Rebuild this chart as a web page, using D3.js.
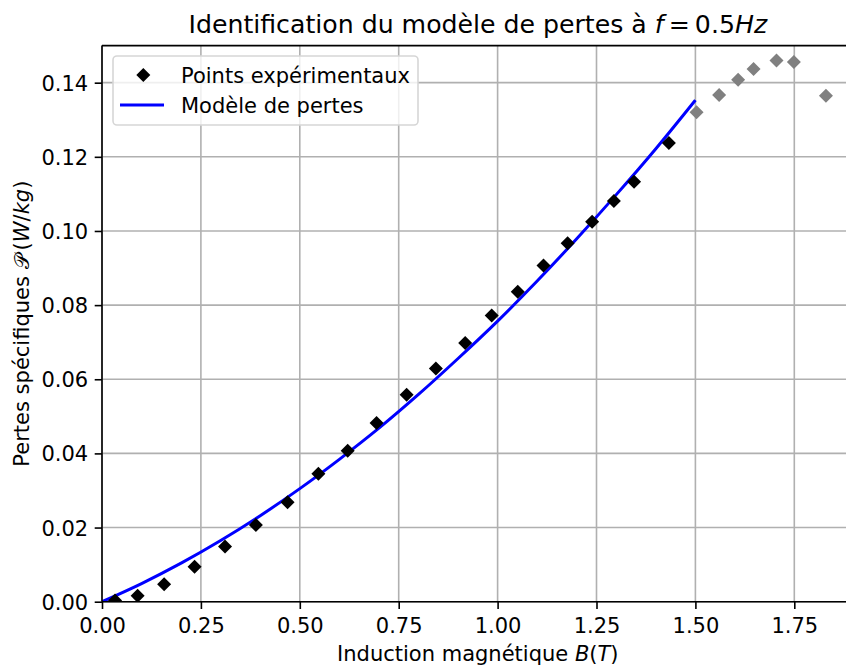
<!DOCTYPE html>
<html>
<head>
<meta charset="utf-8">
<script src="https://cdn.jsdelivr.net/npm/d3@7"></script>
<style>
  html, body { margin: 0; padding: 0; background: #fff; }
  svg { display: block; font-family: "DejaVu Sans", sans-serif; }
</style>
</head>
<body>
<svg id="chart" width="846" height="666"></svg>
<script>
// ---- data ----
const bExp = [0.033, 0.090, 0.157, 0.234, 0.311, 0.389, 0.469, 0.547, 0.621, 0.694, 0.770,
              0.844, 0.918, 0.985, 1.051, 1.116, 1.177, 1.239, 1.294, 1.345, 1.433];
const pExp = [0.0003, 0.0016, 0.0047, 0.0094, 0.0149, 0.0207, 0.0268, 0.0345, 0.0407, 0.0482, 0.0558,
              0.0629, 0.0698, 0.0772, 0.0836, 0.0907, 0.0967, 0.1025, 0.1081, 0.1133, 0.1237];
const bExcluded = [1.503, 1.560, 1.608, 1.647, 1.705, 1.749, 1.830];
const pExcluded = [0.1320, 0.1367, 0.1408, 0.1437, 0.1460, 0.1456, 0.1365];
const bModel = [0, 0.1, 0.2, 0.3, 0.4, 0.5, 0.6, 0.7, 0.8, 0.9, 1.0, 1.1, 1.2, 1.3, 1.4, 1.5];
const pModel = [0, 0.0049, 0.0104, 0.0165, 0.0232, 0.0305, 0.0384, 0.0468, 0.0559, 0.0656,
                0.0757, 0.0865, 0.0979, 0.1098, 0.1222, 0.1353];
const xTicks = [0, 0.25, 0.5, 0.75, 1.0, 1.25, 1.5, 1.75];
const yTicks = [0, 0.02, 0.04, 0.06, 0.08, 0.10, 0.12, 0.14];
const legendLabels = ["Points expérimentaux", "Modèle de pertes"];

// ---- layout ----
const svg = d3.select("#chart");
const pLeft = 102, pBottom = 601.7, pTop = 45.6;
const x = d3.scaleLinear().domain([0, 1.9]).range([pLeft, pLeft + 1.9 * 395.6]);
const y = d3.scaleLinear().domain([0, 0.15]).range([pBottom, pTop]);
const pRight = x(1.9);
const fs = 21;
const lw = 1.6;

svg.append("defs").append("clipPath").attr("id", "clip")
  .append("rect").attr("x", pLeft).attr("y", pTop).attr("width", pRight - pLeft).attr("height", pBottom - pTop);

// grid
const grid = svg.append("g");
grid.selectAll("line.gx").data(xTicks).join("line").attr("class", "gx")
  .attr("x1", d => x(d)).attr("x2", d => x(d)).attr("y1", pTop).attr("y2", pBottom)
  .attr("stroke", "#b0b0b0").attr("stroke-width", lw);
grid.selectAll("line.gy").data(yTicks).join("line").attr("class", "gy")
  .attr("y1", d => y(d)).attr("y2", d => y(d)).attr("x1", pLeft).attr("x2", pRight)
  .attr("stroke", "#b0b0b0").attr("stroke-width", lw);

// axes
const xAxis = d3.axisBottom(x).tickValues(xTicks).tickFormat(d3.format(".2f")).tickSizeInner(7.3).tickSizeOuter(0).tickPadding(7);
const yAxis = d3.axisLeft(y).tickValues(yTicks).tickFormat(d3.format(".2f")).tickSizeInner(7.3).tickSizeOuter(0).tickPadding(6.5);
const gx = svg.append("g").attr("transform", `translate(0,${pBottom})`).call(xAxis);
const gy = svg.append("g").attr("transform", `translate(${pLeft},0)`).call(yAxis);
[gx, gy].forEach(g => {
  g.select(".domain").remove();
  g.selectAll(".tick line").attr("stroke", "#000").attr("stroke-width", lw);
  g.selectAll(".tick text").attr("fill", "#000").style("font-size", fs + "px").style("font-family", "DejaVu Sans");
});
gx.selectAll(".tick text").attr("dy", null).attr("y", 31.5);
gy.selectAll(".tick text").attr("dy", "0.36em");

// data layer
const plot = svg.append("g").attr("clip-path", "url(#clip)");
const line = d3.line().x((d, i) => x(bModel[i])).y(d => y(d)).curve(d3.curveMonotoneX);
plot.append("path").datum(pModel).attr("d", line)
  .attr("fill", "none").attr("stroke", "#0000ff").attr("stroke-width", 3);

const diamond = d3.symbol().type(d3.symbolSquare).size(98);
plot.selectAll("path.exp").data(bExp).join("path").attr("class", "exp")
  .attr("d", diamond)
  .attr("transform", (d, i) => `translate(${x(d)},${y(pExp[i])}) rotate(45)`)
  .attr("fill", "#000");
plot.selectAll("path.excl").data(bExcluded).join("path").attr("class", "excl")
  .attr("d", diamond)
  .attr("transform", (d, i) => `translate(${x(d)},${y(pExcluded[i])}) rotate(45)`)
  .attr("fill", "#808080");

// spines
const spine = (x1, y1, x2, y2) => svg.append("line").attr("x1", x1).attr("y1", y1).attr("x2", x2).attr("y2", y2)
  .attr("stroke", "#000").attr("stroke-width", lw);
spine(pLeft, pTop, pLeft, pBottom);
spine(pLeft, pBottom, pRight, pBottom);
spine(pLeft, pTop, pRight, pTop);
spine(pRight, pTop, pRight, pBottom);

// title
const title = svg.append("text").attr("x", (pLeft + pRight) / 2).attr("y", 32.5)
  .attr("text-anchor", "middle").style("font-size", "25.2px").attr("fill", "#000");
title.append("tspan").text("Identification du modèle de pertes à ");
title.append("tspan").style("font-style", "italic").text("f");
title.append("tspan").text("\u2009=\u20090.5");
title.append("tspan").style("font-style", "italic").text("Hz");

// x label
const xl = svg.append("text").attr("x", (pLeft + pRight) / 2).attr("y", 661)
  .attr("text-anchor", "middle").style("font-size", fs + "px").attr("fill", "#000");
xl.append("tspan").text("Induction magnétique ");
xl.append("tspan").style("font-style", "italic").text("B");
xl.append("tspan").text("(");
xl.append("tspan").style("font-style", "italic").text("T");
xl.append("tspan").text(")");

// y label
const yl = svg.append("text").attr("transform", `translate(29,${(pTop + pBottom) / 2}) rotate(-90)`)
  .attr("text-anchor", "middle").style("font-size", fs + "px").attr("fill", "#000");
yl.append("tspan").text("Pertes spécifiques ");
yl.append("tspan").text("\u{1D4AB}");
yl.append("tspan").attr("dx", 4).text("(");
yl.append("tspan").style("font-style", "italic").text("W");
yl.append("tspan").text("/");
yl.append("tspan").style("font-style", "italic").text("kg");
yl.append("tspan").text(")");

// legend
const lg = svg.append("g");
lg.append("rect").attr("x", 113).attr("y", 56).attr("width", 305).attr("height", 69)
  .attr("rx", 4).attr("fill", "#fff").attr("fill-opacity", 0.8)
  .attr("stroke", "#d6d6d6").attr("stroke-width", lw);
lg.append("path").attr("d", diamond).attr("transform", "translate(143.3,75) rotate(45)").attr("fill", "#000");
lg.append("line").attr("x1", 120).attr("x2", 164).attr("y1", 105).attr("y2", 105)
  .attr("stroke", "#0000ff").attr("stroke-width", 3);
lg.selectAll("text").data(legendLabels).join("text")
  .attr("x", 181).attr("y", (d, i) => 82.5 + i * 30)
  .style("font-size", fs + "px").attr("fill", "#000").text(d => d);
</script>
</body>
</html>
